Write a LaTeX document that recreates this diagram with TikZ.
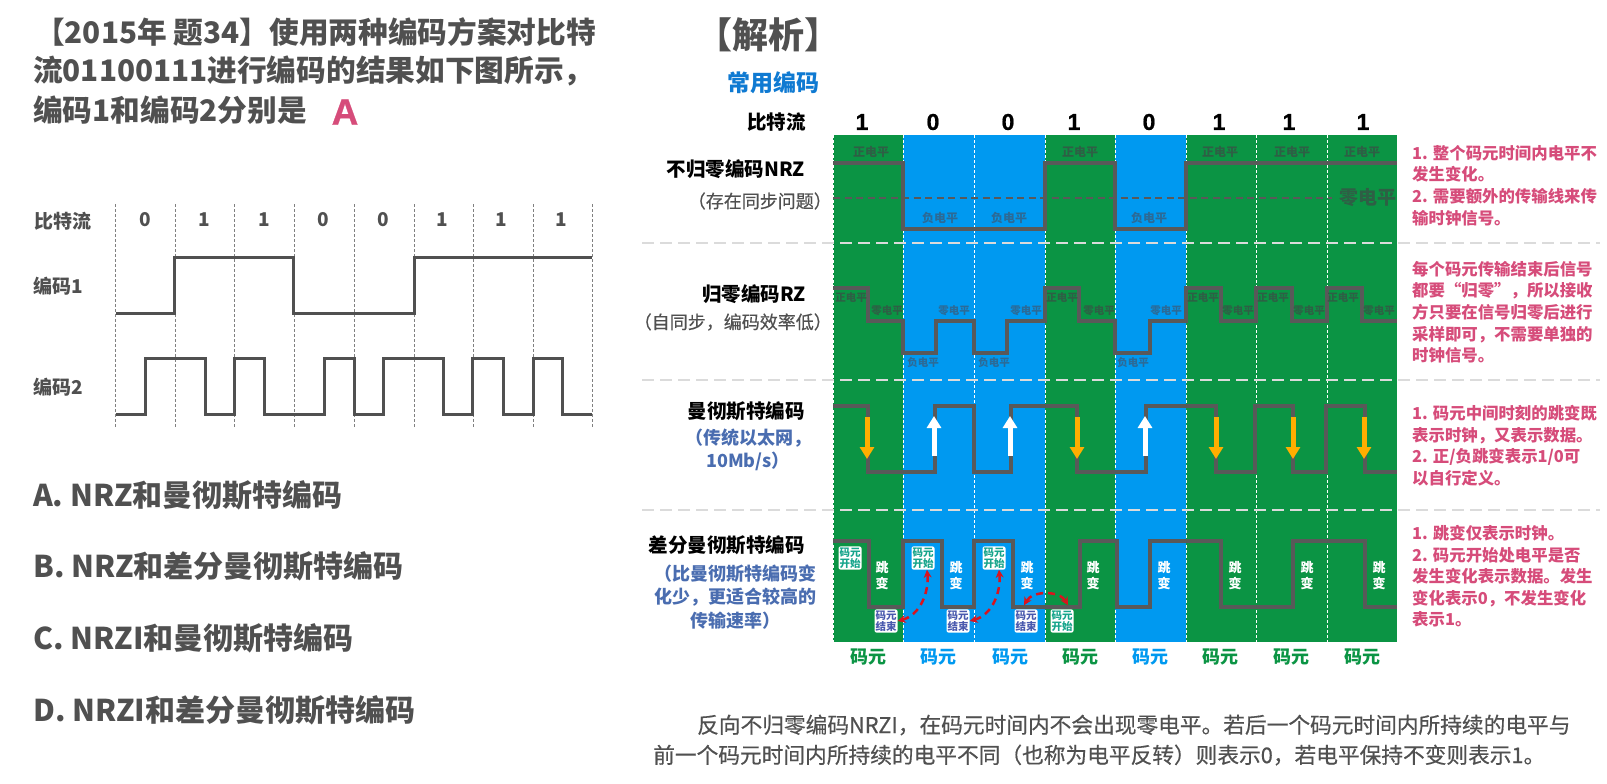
\documentclass[tikz,border=0pt]{standalone}
\usepackage{fontspec}
\setmainfont{Noto Sans CJK SC}
\newfontfamily\heavyfont{Liberation Sans Bold}[FakeBold=0.8]
\newfontfamily\mediumfont{Noto Sans CJK SC}[FakeBold=0.5]
\usepackage{tikz}
\usetikzlibrary{arrows.meta}
\definecolor{cellgreen}{HTML}{0B9444}
\definecolor{cellblue}{HTML}{0099F0}
\definecolor{wavegrey}{HTML}{595959}
\definecolor{textgrey}{HTML}{505050}
\definecolor{notepink}{HTML}{D64C7A}
\definecolor{subblue}{HTML}{4A6DB0}
\definecolor{titleblue}{HTML}{0F7AD2}
\definecolor{hopred}{HTML}{D9141E}
\definecolor{jumporange}{HTML}{FFAE00}
\definecolor{tagteal}{HTML}{17A58C}
\definecolor{tagindigo}{HTML}{4A5AAE}
\definecolor{levelgreen}{HTML}{2E5F45}
\definecolor{levelblue}{HTML}{2C6A96}
\tikzstyle{Wave} = [line width=4pt, draw=wavegrey, line join=miter]
\tikzstyle{SmallWave} = [line width=3pt, draw=textgrey, line join=miter]
\tikzstyle{JumpDown} = [line width=5pt, draw=jumporange, -{Triangle[width=14pt, length=12pt]}]
\tikzstyle{JumpUp} = [line width=5pt, draw=white, -{Triangle[width=14pt, length=12pt]}]
\tikzstyle{Hop} = [line width=2.5pt, draw=hopred, dash pattern=on 7pt off 5pt, {Stealth[length=8pt, width=8pt]}-{Stealth[length=8pt, width=8pt]}]

\begin{document}
\begin{tikzpicture}[
x=1pt, y=-1pt,
inner sep=0pt,
question/.style={anchor=west, text=textgrey, font=\fontsize{30}{30}\selectfont\bfseries},
titleline/.style={anchor=west, text=textgrey, font=\fontsize{29.7}{29.7}\selectfont\bfseries},
gridlabel/.style={text=textgrey, font=\fontsize{19}{19}\selectfont\bfseries},
rowname/.style={anchor=east, text=black, font=\fontsize{19.5}{19.5}\selectfont\bfseries},
rownote/.style={anchor=east, text=textgrey, font=\mediumfont\fontsize{18}{18}\selectfont},
bluenote/.style={align=center, text=subblue, font=\fontsize{18}{23.5}\selectfont\bfseries},
note/.style={anchor=north west, align=left, text=notepink, font=\fontsize{16.4}{21.6}\selectfont\bfseries},
bit/.style={text=black, font=\heavyfont\fontsize{23}{23}\selectfont},
level/.style={text=levelgreen, font=\fontsize{12}{12}\selectfont\bfseries},
blevel/.style={text=levelblue, font=\fontsize{12}{12}\selectfont\bfseries},
rzlevel/.style={text=levelgreen, font=\fontsize{10.5}{10.5}\selectfont\bfseries},
brzlevel/.style={text=levelblue, font=\fontsize{10.5}{10.5}\selectfont\bfseries},
flip/.style={align=center, text=white, font=\fontsize{13}{16}\selectfont\bfseries},
tag/.style={fill=white, rounded corners=2pt, inner sep=1pt, align=center, font=\fontsize{10.5}{11.5}\selectfont\bfseries},
start/.style={tag, text=tagteal},
finish/.style={tag, text=tagindigo},
gcell/.style={text=cellgreen, font=\fontsize{18}{18}\selectfont\bfseries},
bcell/.style={text=cellblue, font=\fontsize{18}{18}\selectfont\bfseries},
divider/.style={line width=2.5pt, draw=black!14, dash pattern=on 11.5pt off 6.5pt}
]
\useasboundingbox (0,0) rectangle (1607,784);

% left side
\node [titleline] (title1) at (35,32) {【2015年 题34】使用两种编码方案对比特};
\node [titleline] (title2) at (33,71) {流01100111进行编码的结果如下图所示，};
\node [titleline] (title3) at (33,110) {编码1和编码2分别是};
\node [text=notepink, font=\heavyfont\fontsize{37}{37}\selectfont] (answer) at (345,112) {A};

\node [gridlabel, anchor=west] (lbits) at (34,221) {比特流};
\node [gridlabel, anchor=west] (lcode1) at (33,286) {编码1};
\node [gridlabel, anchor=west] (lcode2) at (33,387) {编码2};
\node [gridlabel] (l1) at (145,220) {0};
\node [gridlabel] (l2) at (204,220) {1};
\node [gridlabel] (l3) at (264,220) {1};
\node [gridlabel] (l4) at (323,220) {0};
\node [gridlabel] (l5) at (383,220) {0};
\node [gridlabel] (l6) at (442,220) {1};
\node [gridlabel] (l7) at (501,220) {1};
\node [gridlabel] (l8) at (561,220) {1};

\draw [gray, densely dashed, thin] (115.5,204) -- (115.5,428);
\draw [gray, densely dashed, thin] (174.8,204) -- (174.8,428);
\draw [gray, densely dashed, thin] (234,204) -- (234,428);
\draw [gray, densely dashed, thin] (293.8,204) -- (293.8,428);
\draw [gray, densely dashed, thin] (353.9,204) -- (353.9,428);
\draw [gray, densely dashed, thin] (414,204) -- (414,428);
\draw [gray, densely dashed, thin] (473.3,204) -- (473.3,428);
\draw [gray, densely dashed, thin] (533,204) -- (533,428);
\draw [gray, densely dashed, thin] (592.3,204) -- (592.3,428);

\draw [SmallWave] (115.5,313) -| (174.8,257) -| (293.8,313) -| (414,257) -- (592.3,257);
\draw [SmallWave] (115.5,414) -| (145.5,358) -| (205,414) -| (234,358) -| (264,414) -| (324,358) -| (354,414) -| (383.5,358) -| (443.6,414) -| (472.5,358) -| (503,414) -| (533,358) -| (562,414) -- (592.3,414);

\node [question] (optA) at (33,495) {A. NRZ和曼彻斯特编码};
\node [question] (optB) at (33,566) {B. NRZ和差分曼彻斯特编码};
\node [question] (optC) at (33,638) {C. NRZI和曼彻斯特编码};
\node [question] (optD) at (33,710) {D. NRZI和差分曼彻斯特编码};

% right side, headings
\node [anchor=west, text=textgrey, font=\fontsize{36}{36}\selectfont\bfseries] (head) at (696,35) {【解析】};
\node [anchor=west, text=titleblue, font=\fontsize{23}{23}\selectfont\bfseries] (common) at (727,83) {常用编码};
\node [rowname] (bitrow) at (806,122) {比特流};
\node [bit] (b1) at (862,122) {1};
\node [bit] (b2) at (933,122) {0};
\node [bit] (b3) at (1008,122) {0};
\node [bit] (b4) at (1074,122) {1};
\node [bit] (b5) at (1149,122) {0};
\node [bit] (b6) at (1219,122) {1};
\node [bit] (b7) at (1289,122) {1};
\node [bit] (b8) at (1363,122) {1};

% code cells
\fill [cellgreen] (833,135) rectangle (903,642);
\fill [cellblue] (903,135) rectangle (1045,642);
\fill [cellgreen] (1045,135) rectangle (1115,642);
\fill [cellblue] (1115,135) rectangle (1186,642);
\fill [cellgreen] (1186,135) rectangle (1397,642);

\draw [white, densely dashed, line width=0.8pt] (833,135) -- (833,642);
\draw [white, densely dashed, line width=0.8pt] (903,135) -- (903,642);
\draw [white, densely dashed, line width=0.8pt] (974,135) -- (974,642);
\draw [white, densely dashed, line width=0.8pt] (1045,135) -- (1045,642);
\draw [white, densely dashed, line width=0.8pt] (1115,135) -- (1115,642);
\draw [white, densely dashed, line width=0.8pt] (1186,135) -- (1186,642);
\draw [white, densely dashed, line width=0.8pt] (1256,135) -- (1256,642);
\draw [white, densely dashed, line width=0.8pt] (1327,135) -- (1327,642);
\draw [white, densely dashed, line width=0.8pt] (1397,135) -- (1397,642);

\draw [divider] (642,243) -- (1600,243);
\draw [divider] (642,380) -- (1600,380);
\draw [divider] (642,510) -- (1600,510);

% NRZ
\node [rowname] (nrz) at (805,169) {不归零编码NRZ};
\node [rownote] (nrznote) at (832,201) {（存在同步问题）};
\draw [line width=2.5pt, draw=wavegrey, dash pattern=on 7pt off 4.5pt] (833,198) -- (1332,198);
\draw [Wave] (833,163) -| (903,229) -| (1045,163) -| (1115,229) -| (1186,163) -- (1397,163);
\node [level] (p1) at (871,152) {正电平};
\node [level] (p2) at (1080,152) {正电平};
\node [level] (p3) at (1220,152) {正电平};
\node [level] (p4) at (1292,152) {正电平};
\node [level] (p5) at (1362,152) {正电平};
\node [blevel] (n1) at (940,218) {负电平};
\node [blevel] (n2) at (1009,218) {负电平};
\node [blevel] (n3) at (1149,218) {负电平};
\node [text=levelgreen, font=\fontsize{19}{19}\selectfont\bfseries] (zero) at (1368,198) {零电平};

% RZ
\node [rowname] (rz) at (806,294) {归零编码RZ};
\node [rownote] (rznote) at (832,322) {（自同步，编码效率低）};
\draw [Wave] (833,288) -| (868,321) -| (903,353) -| (936,321) -| (974,353) -| (1007,321) -| (1045,288) -| (1079,321) -| (1115,353) -| (1150,321) -| (1186,288) -| (1221,321) -| (1256,288) -| (1292,321) -| (1327,288) -| (1362,321) -- (1397,321);
\node [rzlevel] (rp1) at (851,298) {正电平};
\node [rzlevel] (rp2) at (1062,298) {正电平};
\node [rzlevel] (rp3) at (1203,298) {正电平};
\node [rzlevel] (rp4) at (1273,298) {正电平};
\node [rzlevel] (rp5) at (1343,298) {正电平};
\node [rzlevel] (rz1) at (887,311) {零电平};
\node [brzlevel] (rz2) at (954,311) {零电平};
\node [brzlevel] (rz3) at (1026,311) {零电平};
\node [rzlevel] (rz4) at (1099,311) {零电平};
\node [brzlevel] (rz5) at (1166,311) {零电平};
\node [rzlevel] (rz6) at (1238,311) {零电平};
\node [rzlevel] (rz7) at (1309,311) {零电平};
\node [rzlevel] (rz8) at (1379,311) {零电平};
\node [brzlevel] (rn1) at (923,363) {负电平};
\node [brzlevel] (rn2) at (994,363) {负电平};
\node [brzlevel] (rn3) at (1133,363) {负电平};

% Manchester
\node [rowname] (man) at (805,411) {曼彻斯特编码};
\node [bluenote] (mannote) at (748,450) {（传统以太网，\\10Mb/s）};
\draw [Wave] (833,406) -| (868,472) -| (935,406) -| (974,472) -| (1011,406) -| (1077,472) -| (1146,406) -| (1216,472) -| (1255,406) -| (1293,472) -| (1326,406) -| (1365,472) -- (1397,472);
\coordinate (d1a) at (867,417);
\coordinate (d1b) at (867,459);
\coordinate (u1a) at (934,456);
\coordinate (u1b) at (934,416);
\coordinate (u2a) at (1010,456);
\coordinate (u2b) at (1010,416);
\coordinate (d2a) at (1077,417);
\coordinate (d2b) at (1077,459);
\coordinate (u3a) at (1145,456);
\coordinate (u3b) at (1145,416);
\coordinate (d3a) at (1216,417);
\coordinate (d3b) at (1216,459);
\coordinate (d4a) at (1293,417);
\coordinate (d4b) at (1293,459);
\coordinate (d5a) at (1364,417);
\coordinate (d5b) at (1364,459);
\draw [JumpDown] (d1a) -- (d1b);
\draw [JumpUp] (u1a) -- (u1b);
\draw [JumpUp] (u2a) -- (u2b);
\draw [JumpDown] (d2a) -- (d2b);
\draw [JumpUp] (u3a) -- (u3b);
\draw [JumpDown] (d3a) -- (d3b);
\draw [JumpDown] (d4a) -- (d4b);
\draw [JumpDown] (d5a) -- (d5b);

% differential Manchester
\node [rowname] (diff) at (805,545) {差分曼彻斯特编码};
\node [bluenote] (diffnote) at (735,597) {（比曼彻斯特编码变\\化少，更适合较高的\\传输速率）};
\draw [Wave] (833,541) -| (869,607) -| (903,541) -| (942,607) -| (974,541) -| (1013,607) -| (1080,541) -| (1117,607) -| (1150,541) -| (1221,607) -| (1293,541) -| (1365,607) -- (1397,607);
\node [flip] (f1) at (882,576) {跳\\变};
\node [flip] (f2) at (956,576) {跳\\变};
\node [flip] (f3) at (1027,576) {跳\\变};
\node [flip] (f4) at (1093,576) {跳\\变};
\node [flip] (f5) at (1164,576) {跳\\变};
\node [flip] (f6) at (1235,576) {跳\\变};
\node [flip] (f7) at (1307,576) {跳\\变};
\node [flip] (f8) at (1379,576) {跳\\变};
\node [start] (s1) at (850,558) {码元\\开始};
\node [start] (s2) at (923,558) {码元\\开始};
\node [start] (s3) at (994,558) {码元\\开始};
\node [start] (s4) at (1062,621) {码元\\开始};
\node [finish] (e1) at (886,621) {码元\\结束};
\node [finish] (e2) at (958,621) {码元\\结束};
\node [finish] (e3) at (1026,621) {码元\\结束};
\draw [Hop] (e1.east) to [out=15, in=-85] ([xshift=4pt]s2.south);
\draw [Hop] (e2.east) to [out=15, in=-85] ([xshift=5pt]s3.south);
\draw [Hop] ([xshift=-2pt, yshift=4pt]e3.north) to [out=60, in=120] ([xshift=6pt, yshift=4pt]s4.north);

\node [gcell] (c1) at (868,657) {码元};
\node [bcell] (c2) at (938,657) {码元};
\node [bcell] (c3) at (1010,657) {码元};
\node [gcell] (c4) at (1080,657) {码元};
\node [bcell] (c5) at (1150,657) {码元};
\node [gcell] (c6) at (1220,657) {码元};
\node [gcell] (c7) at (1291,657) {码元};
\node [gcell] (c8) at (1362,657) {码元};

% notes
\node [note] (note1) at (1412,145) {1. 整个码元时间内电平不\\发生变化。\\2. 需要额外的传输线来传\\输时钟信号。};
\node [note] (note2) at (1412,261) {每个码元传输结束后信号\\都要“归零”，所以接收\\方只要在信号归零后进行\\采样即可，不需要单独的\\时钟信号。};
\node [note] (note3) at (1412,405) {1. 码元中间时刻的跳变既\\表示时钟，又表示数据。\\2. 正/负跳变表示1/0可\\以自行定义。};
\node [note] (note4) at (1412,525) {1. 跳变仅表示时钟。\\2. 码元开始处电平是否\\发生变化表示数据。发生\\变化表示0，不发生变化\\表示1。};

\node [anchor=west, text=textgrey, font=\mediumfont\fontsize{21.7}{21.7}\selectfont] (para1) at (697,725) {反向不归零编码NRZI，在码元时间内不会出现零电平。若后一个码元时间内所持续的电平与};
\node [anchor=west, text=textgrey, font=\mediumfont\fontsize{21.7}{21.7}\selectfont] (para2) at (653,755) {前一个码元时间内所持续的电平不同（也称为电平反转）则表示0，若电平保持不变则表示1。};

\end{tikzpicture}
\end{document}
